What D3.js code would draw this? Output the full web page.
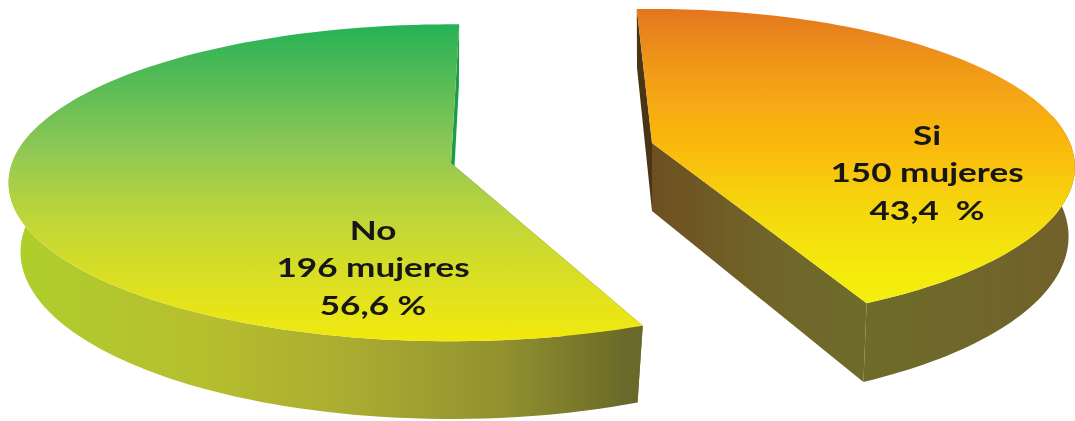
<!DOCTYPE html>
<html>
<head>
<meta charset="utf-8">
<script src="https://cdn.jsdelivr.net/npm/d3@7"></script>
<style>
  html, body { margin: 0; padding: 0; background: #fff; overflow: hidden; }
  svg { display: block; }
  text { font-family: Lato, "Open Sans", sans-serif; font-weight: 700; fill: #161616; white-space: pre; }
</style>
</head>
<body>
<svg id="chart" width="1075" height="421"></svg>
<script>
// chart values
const categories = ['Si', 'No'];
const counts = [150, 196];
const countLabels = ['150 mujeres', '196 mujeres'];
const percentLabels = ['43,4  %', '56,6 %'];

const WIDTH = 1075;
const HEIGHT = 421;
const RAD = Math.PI / 180;

// Each exploded slice has its own hub and slightly different foreshortening
const sliceGeometry = {
  Si: { hx: 652, hy: 143, rx: 418, ry: 154.4, k: 0.152, depth: 68, shrink: 0.985, spin: 0,
        label: [927, 138], lineGap: 37.5 },
  No: { hx: 451, hy: 163, rx: 439, ry: 156, k: 0.125, depth: 68, shrink: 0.973, spin: 3.6 * RAD,
        label: [373, 233], lineGap: 37.5 }
};

const TEXT_STRETCH = 1.35;

const faceStops = {
  Si: [[9, '#e4761f'], [60, '#ee9519'], [100, '#f5a815'], [150, '#fabb08'], [210, '#f5d80c'], [270, '#f4ea0c'], [303, '#f5ee0a']],
  No: [[21, '#22b257'], [80, '#56bb55'], [150, '#8fc855'], [220, '#c0d638'], [300, '#e3e21c'], [343, '#f3ea0d']]
};
const wallStops = {
  Si: [[640, '#74521f'], [760, '#6f6429'], [860, '#6e6c2a'], [1000, '#6f6529'], [1075, '#73602a']],
  No: [[10, '#aecf2c'], [200, '#b6bf2e'], [350, '#aaac30'], [500, '#92922f'], [627, '#6a692a']]
};
// First and last straight cut of each slice, in pie order
const firstCutFill = { Si: '#4a3413', No: '#6a692a' };
const lastCutStops = {
  Si: [[649, '#6e4f22'], [760, '#6f6429'], [866, '#6e6c2a']],
  No: [[451, '#1c9c4a'], [470, '#1c9c4a']]
};

const pie = d3.pie().sort(null).startAngle(-2.4 * RAD).endAngle((360 - 2.4) * RAD);
const arcs = pie(counts);

const svg = d3.select('#chart').attr('viewBox', `0 0 ${WIDTH} ${HEIGHT}`);
const defs = svg.append('defs');

defs.append('filter').attr('id', 'soft')
  .append('feGaussianBlur').attr('stdDeviation', 0.55);
defs.append('filter').attr('id', 'edge')
  .append('feGaussianBlur').attr('stdDeviation', 0.4);

const addGradient = (id, stops, vertical) => {
  const first = stops[0][0];
  const last = stops[stops.length - 1][0];
  const offset = d3.scaleLinear().domain([first, last]).range([0, 1]);
  const grad = defs.append('linearGradient')
    .attr('id', id)
    .attr('gradientUnits', 'userSpaceOnUse')
    .attr('x1', vertical ? 0 : first).attr('x2', vertical ? 0 : last)
    .attr('y1', vertical ? first : 0).attr('y2', vertical ? last : 0);
  stops.forEach(([v, color]) => {
    grad.append('stop').attr('offset', offset(v)).attr('stop-color', color);
  });
};

// Perspective projection of a rim point, relative to the slice hub
const topRim = (g, a) => {
  const w = 1 + g.k * Math.cos(a);
  return [g.hx + g.rx * Math.sin(a) / w, g.hy - g.ry * Math.cos(a) / w];
};
const bottomRim = (g, a) => {
  const w = 1 + g.k * Math.cos(a);
  const [x, y] = topRim(g, a);
  return [g.hx + (x - g.hx) * g.shrink, y + g.depth / w];
};

const line = d3.line();

categories.forEach((cat, i) => {
  const g = sliceGeometry[cat];
  const start = arcs[i].startAngle + g.spin;
  const end = arcs[i].endAngle + g.spin;
  const angles = d3.range(0, 121).map(t => start + (end - start) * t / 120);
  const top = angles.map(a => topRim(g, a));
  const bottom = angles.map(a => bottomRim(g, a));
  const hubTop = [g.hx, g.hy];
  const hubBottom = [g.hx, g.hy + g.depth];

  // Only the near part of the rim wall can be seen
  const near = angles.map((a, j) => j).filter(j => Math.cos(angles[j]) < 0.2);
  const wallTop = near.map(j => top[j]);
  const wallBottom = near.map(j => bottom[j]);

  addGradient(`face-${cat}`, faceStops[cat], true);
  addGradient(`wall-${cat}`, wallStops[cat], false);
  addGradient(`cut-${cat}`, lastCutStops[cat], false);

  const slice = svg.append('g').attr('class', `slice slice-${cat}`).attr('filter', 'url(#edge)');

  // Straight cut walls, below the rim wall and the face
  slice.append('path')
    .attr('d', line([top[0], hubTop, hubBottom, bottom[0]]) + 'Z')
    .attr('fill', firstCutFill[cat]);
  slice.append('path')
    .attr('d', line([top[120], hubTop, hubBottom, bottom[120]]) + 'Z')
    .attr('fill', `url(#cut-${cat})`);

  // Outer rim wall
  slice.append('path')
    .attr('d', line(wallTop.concat(wallBottom.slice().reverse())) + 'Z')
    .attr('fill', `url(#wall-${cat})`);

  // Top face
  slice.append('path')
    .attr('d', line([hubTop].concat(top)) + 'Z')
    .attr('fill', `url(#face-${cat})`);

  // Label, three centred lines
  const lines = [cat, countLabels[i], percentLabels[i]];
  svg.append('g').attr('class', 'label').attr('filter', 'url(#soft)')
    .attr('transform', `translate(${g.label[0]},${g.label[1]}) scale(${TEXT_STRETCH},1)`)
    .selectAll('text')
    .data(lines)
    .join('text')
    .attr('x', 0)
    .attr('y', (_, j) => j * g.lineGap)
    .attr('text-anchor', 'middle')
    .attr('dominant-baseline', 'middle')
    .attr('font-size', 26)
    .text(d => d);
});
</script>
</body>
</html>
